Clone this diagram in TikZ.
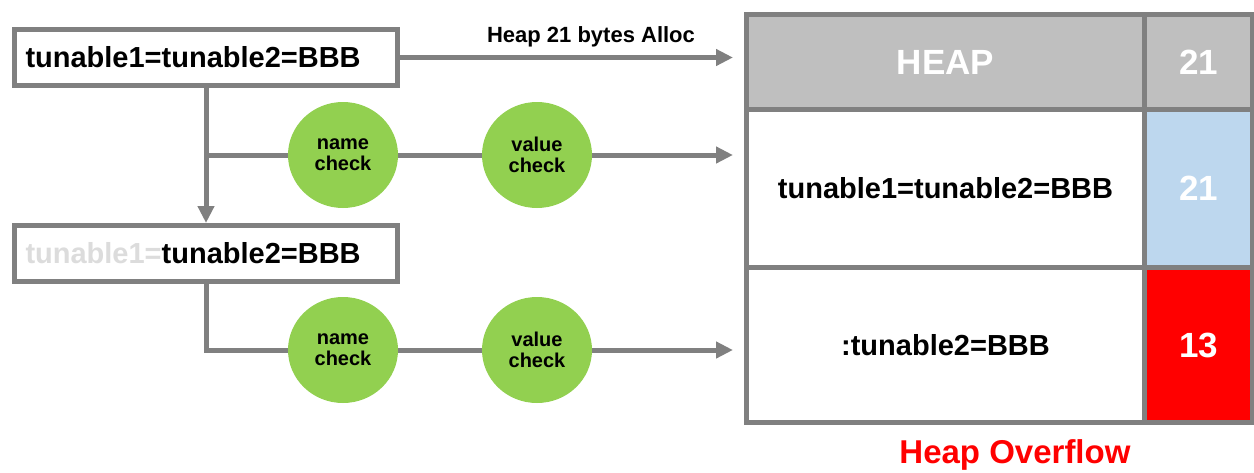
\documentclass[tikz,border=0pt]{standalone}
\usepackage{fontspec}
\setmainfont{Liberation Sans}
\usetikzlibrary{arrows.meta,shapes.geometric}
\definecolor{lgray}{RGB}{128,128,128}
\definecolor{hgray}{RGB}{191,191,191}
\definecolor{cgreen}{RGB}{146,208,80}
\definecolor{lblue}{RGB}{189,215,238}
\definecolor{fadetext}{RGB}{220,220,220}
\begin{document}
\begin{tikzpicture}[x=1pt,y=-1pt,
  strbox/.style={draw=lgray,line width=5pt,fill=white,anchor=north west,
    minimum width=383pt,minimum height=56pt,text width=361pt,align=left,
    inner xsep=11pt,inner ysep=0pt,font=\bfseries\fontsize{29}{31}\selectfont},
  chk/.style={ellipse,fill=cgreen,minimum width=110pt,minimum height=106pt,inner sep=0pt,
    align=center,font=\bfseries\fontsize{20}{21}\selectfont},
  conn/.style={draw=lgray,line width=5pt},
  arr/.style={conn,-{Triangle[length=17pt,width=16pt]}},
  cell/.style={draw=lgray,line width=5pt,anchor=north west,inner sep=0pt},
  celltxt/.style={font=\bfseries\fontsize{29}{31}\selectfont},
  numtxt/.style={text=white,font=\bfseries\fontsize{35}{37}\selectfont},
]
\useasboundingbox (0,0) rectangle (1254,472);

% table
\node[cell,fill=hgray,minimum width=398pt,minimum height=95pt,numtxt] (h1) at (744,12) {HEAP};
\node[cell,fill=hgray,minimum width=108pt,minimum height=95pt,numtxt] (h2) at (1142,12) {21};
\node[cell,fill=white,minimum width=398pt,minimum height=158pt,celltxt] (r1) at (744,107) {tunable1=tunable2=BBB};
\node[cell,fill=lblue,minimum width=108pt,minimum height=158pt,numtxt] (r1n) at (1142,107) {21};
\node[cell,fill=white,minimum width=398pt,minimum height=155pt,celltxt] (r2) at (744,265) {:tunable2=BBB};
\node[cell,fill=red,minimum width=108pt,minimum height=155pt,numtxt] (r2n) at (1142,265) {13};
\node[text=red,font=\bfseries\fontsize{33}{35}\selectfont] (ov) at (1015,455) {Heap Overflow};

% left boxes
\node[strbox] (b1) at (12,27) {tunable1=tunable2=BBB};
\node[strbox] (b2) at (12,223) {\textcolor{fadetext}{tunable1=}tunable2=BBB};

% checks
\node[chk] (n1) at (343,155) {name\\check};
\node[chk] (v1) at (537,155) {value\\check};
\node[chk] (n2) at (343,350) {name\\check};
\node[chk] (v1b) at (537,350) {value\\check};

% connectors
\coordinate (t0) at (733,55);
\coordinate (t1) at (733,155);
\coordinate (t2) at (733,350);
\coordinate (j1) at (206,155);
\draw[arr] (b1.east) -- (b1.east -| t0);
\node[font=\bfseries\fontsize{22}{24}\selectfont] (lab) at (591,37) {Heap 21 bytes Alloc};
\draw[arr] (b1.south -| j1) -- (b2.north -| j1);
\draw[conn] (j1) -- (n1.west);
\draw[conn] (n1.east) -- (v1.west);
\draw[arr] (v1.east) -- (t1);
\draw[conn] (b2.south -| j1) |- (n2.west);
\draw[conn] (n2.east) -- (v1b.west);
\draw[arr] (v1b.east) -- (t2);
\end{tikzpicture}
\end{document}
